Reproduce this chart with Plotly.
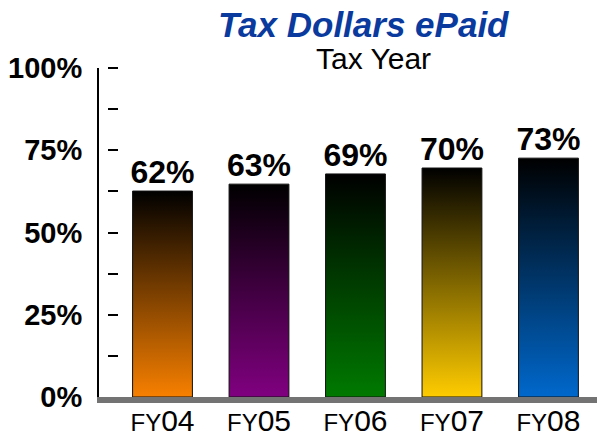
import plotly.graph_objects as go

categories = ["FY04", "FY05", "FY06", "FY07", "FY08"]
bar_values = [62.6, 64.7, 67.8, 69.6, 72.6]
bar_labels = ["62%", "63%", "69%", "70%", "73%"]
bar_colors = ["#F88000", "#800080", "#007A00", "#FFCC00", "#0068CC"]
y_ticks = [0, 25, 50, 75, 100]
y_ticklabels = ["0%", "25%", "50%", "75%", "100%"]
minor_ticks = [12.5, 25, 37.5, 50, 62.5, 75, 87.5, 100]

FONT = "Liberation Sans, Arial, sans-serif"
BAR_W = 0.62

fig = go.Figure()
xs = list(range(len(categories)))
for i, (v, c) in enumerate(zip(bar_values, bar_colors)):
    x0, x1 = i - BAR_W / 2, i + BAR_W / 2
    fig.add_trace(go.Scatter(
        x=[x0, x1, x1, x0, x0], y=[0, 0, v, v, 0],
        mode="lines", fill="toself",
        line=dict(color="#111111", width=1),
        fillgradient=dict(type="vertical", colorscale=[[0, c], [1, "#000000"]]),
        showlegend=False, hoverinfo="skip",
    ))

fig.add_trace(go.Scatter(
    x=xs, y=bar_values, mode="text", text=bar_labels,
    textposition="top center",
    textfont=dict(family=FONT, size=32, color="black", weight="bold"),
    showlegend=False, hoverinfo="skip",
))

ticktext = ["<span style='font-size:24px'>%s</span>%s" % (c[:2], c[2:]) for c in categories]

fig.update_layout(
    template="none",
    width=597, height=438,
    margin=dict(l=99, r=0, t=68, b=41, autoexpand=False),
    paper_bgcolor="white", plot_bgcolor="white",
    xaxis=dict(
        range=[-0.658, 4.503], tickvals=xs, ticktext=ticktext,
        tickfont=dict(family=FONT, size=30, color="black"),
        showline=True, linecolor="#737373", linewidth=6,
        showgrid=False, zeroline=False, ticks="", automargin=False,
        ticklabelstandoff=-8,
    ),
    yaxis=dict(
        range=[0, 100], tickvals=y_ticks, ticktext=y_ticklabels,
        tickfont=dict(family=FONT, size=29, color="black", weight="bold"),
        showline=True, linecolor="black", linewidth=2,
        showgrid=False, zeroline=False, ticks="", ticklabelstandoff=9,
        automargin=False,
    ),
    yaxis2=dict(
        range=[0, 100], overlaying="y", anchor="free", side="left",
        position=(118 - 99) / 498, tickvals=minor_ticks,
        ticks="outside", ticklen=10, tickwidth=2, tickcolor="black",
        showticklabels=False, showline=False, showgrid=False, zeroline=False,
        automargin=False,
    ),
    annotations=[
        dict(text="<b><i>Tax Dollars ePaid</i></b>", xref="paper", yref="paper",
             x=(363.5 - 99) / 498, y=1 + (68 - 24) / 329, xanchor="center", yanchor="middle",
             showarrow=False, font=dict(family=FONT, size=35, color="#0A3A9E")),
        dict(text="Tax Year", xref="paper", yref="paper",
             x=(373.5 - 99) / 498, y=1 + (68 - 58) / 329, xanchor="center", yanchor="middle",
             showarrow=False, font=dict(family=FONT, size=30, color="black")),
    ],
)
fig.add_trace(go.Scatter(x=[None], y=[None], yaxis="y2", showlegend=False, hoverinfo="skip"))

fig.write_html("out.html", post_script="document.body.style.margin='0';",
               config={"displayModeBar": False})
